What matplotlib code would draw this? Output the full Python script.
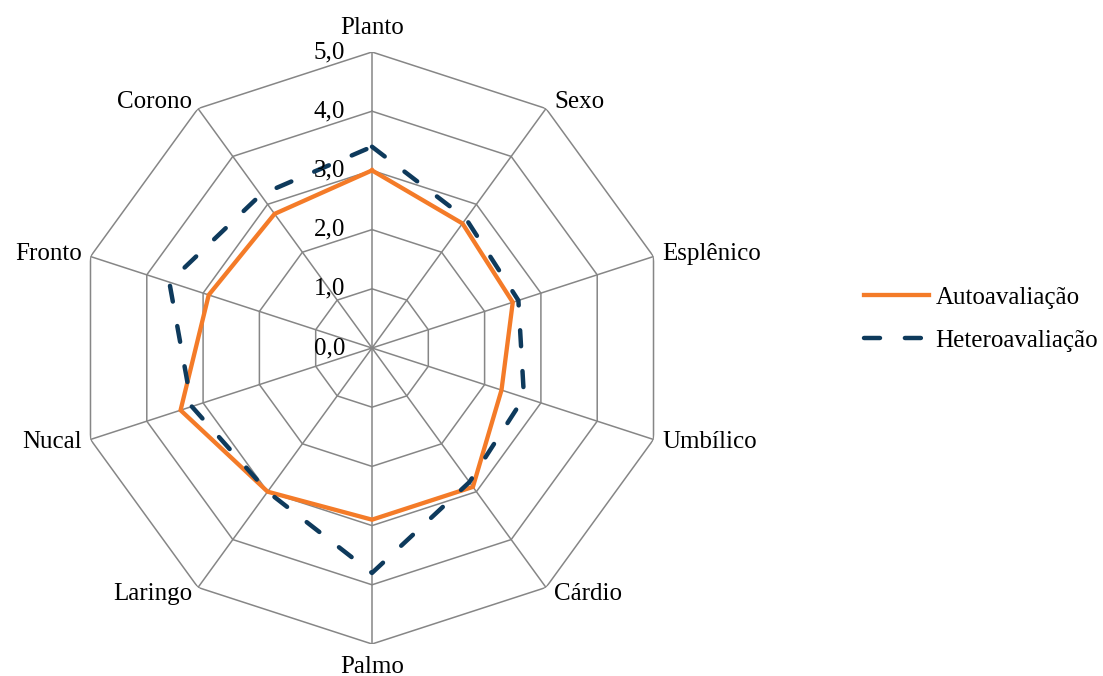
import numpy as np
import matplotlib
matplotlib.use("Agg")
import matplotlib.pyplot as plt

categories = ["Planto", "Sexo", "Esplênico", "Umbílico", "Cárdio",
              "Palmo", "Laringo", "Nucal", "Fronto", "Corono"]
auto = [3.0, 2.6, 2.5, 2.3, 2.9, 2.9, 3.0, 3.4, 2.9, 2.8]
hetero = [3.4, 2.7, 2.6, 2.7, 2.8, 3.8, 3.0, 3.2, 3.6, 3.2]
ring_values = [0, 1, 2, 3, 4, 5]
ring_labels = ["0,0", "1,0", "2,0", "3,0", "4,0", "5,0"]

plt.rcParams['font.family'] = ['Liberation Serif', 'DejaVu Serif']
FS = 18

W, H = 1103, 676
fig = plt.figure(figsize=(W / 100, H / 100), dpi=100)
cx, cy, R = 372, 348, 296
ax = fig.add_axes([(cx - R) / W, (H - cy - R) / H, 2 * R / W, 2 * R / H],
                  projection='polar')
ax.set_theta_offset(np.pi / 2)
ax.set_theta_direction(-1)
ax.set_ylim(0, 5)
ax.grid(False)
ax.set_xticks([])
ax.set_yticks([])
ax.spines['polar'].set_visible(False)
ax.patch.set_visible(False)

n = len(categories)
theta = np.arange(n) * 2 * np.pi / n
theta_c = np.append(theta, theta[0])

grid_col = '#868686'
for rv in ring_values[1:]:
    ax.plot(theta_c, [rv] * (n + 1), color=grid_col, lw=1.1, zorder=1)
for t in theta:
    ax.plot([t, t], [0, 5], color=grid_col, lw=1.1, zorder=1)

auto_c = np.append(auto, auto[0])
het_c = np.append(hetero, hetero[0])
ax.plot(theta_c, auto_c, color='#F47B28', lw=3.1, zorder=3,
        solid_joinstyle='miter', label='Autoavaliação')
ax.plot(theta_c, het_c, color='#0E3A5C', lw=3.2, zorder=4,
        linestyle=(0, (3.6, 5.6)), dash_capstyle='round',
        dash_joinstyle='round', label='Heteroavaliação')

# ring labels
for rv, lab in zip(ring_values, ring_labels):
    ax.annotate(lab, xy=(0, rv), xytext=(-27, 0), textcoords='offset pixels',
                ha='right', va='center', fontsize=FS, color='#000000', zorder=5)

# category labels
offsets = [(0, 24, 'center'), (8, 7, 'left'), (9, 3, 'left'), (9, -3, 'left'),
           (8, -7, 'left'), (0, -23, 'center'), (-6, -7, 'right'),
           (-9, -3, 'right'), (-9, 3, 'right'), (-6, 7, 'right')]
for t, lab, (dx, dy, ha) in zip(theta, categories, offsets):
    ax.annotate(lab, xy=(t, 5), xytext=(dx, dy), textcoords='offset pixels',
                ha=ha, va='center', fontsize=FS, color='#000000',
                annotation_clip=False)

leg = fig.legend(loc='center left', bbox_to_anchor=(864 / W, 1 - 319 / H),
                 frameon=False, fontsize=FS, handlelength=2.6,
                 handletextpad=0.25, labelspacing=0.8, borderaxespad=0,
                 borderpad=0)

fig.savefig('out.png', dpi=100)
